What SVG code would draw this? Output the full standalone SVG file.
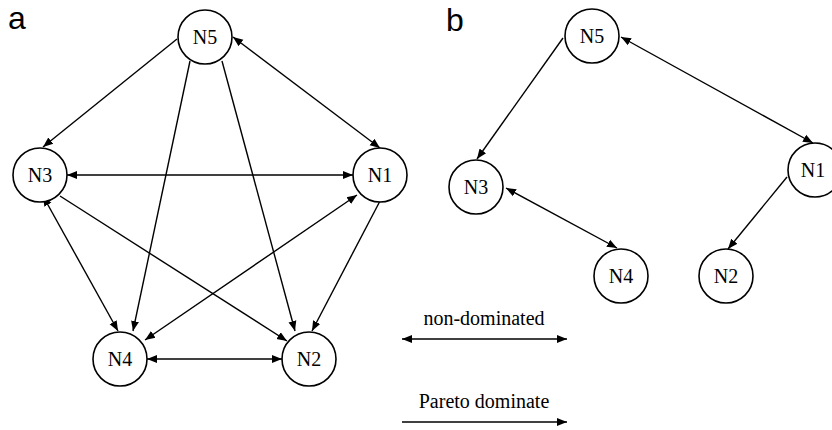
<svg xmlns="http://www.w3.org/2000/svg" width="832" height="430" viewBox="0 0 832 430">
<style>
.node circle{fill:#fff;stroke:#000;stroke-width:1.6}
.node text{font-family:"Liberation Serif",serif;font-size:20px;text-anchor:middle;fill:#000}
.e{stroke:#000;stroke-width:1.4;fill:none;marker-end:url(#ah)}
.b{marker-start:url(#ah)}
.lbl{font-family:"Liberation Sans",Arial,sans-serif;font-size:32px;fill:#000}
.leg{font-family:"Liberation Serif",serif;font-size:20px;text-anchor:middle;fill:#000}
</style>
<defs>
<marker id="ah" markerUnits="userSpaceOnUse" markerWidth="12" markerHeight="10" refX="10" refY="4" orient="auto-start-reverse" viewBox="0 0 12 8">
<path d="M0,0 L10,4 L0,8 Z" fill="#000"/>
</marker>
</defs>
<text class="lbl" x="8" y="29">a</text>
<text class="lbl" x="446" y="31">b</text>
<g id="connectors">
<!-- panel a -->
<line class="e" x1="177" y1="39" x2="43" y2="147"/>
<line class="e b" x1="233" y1="37" x2="380" y2="148"/>
<line class="e b" x1="67" y1="175" x2="353" y2="175"/>
<line class="e" x1="190" y1="61" x2="133" y2="331"/>
<line class="e" x1="222" y1="61" x2="295" y2="331"/>
<line class="e" x1="60" y1="196" x2="287" y2="341"/>
<line class="e b" x1="43" y1="196" x2="118" y2="331"/>
<line class="e b" x1="357" y1="195" x2="145" y2="340"/>
<line class="e" x1="380" y1="201" x2="312" y2="331"/>
<line class="e b" x1="147" y1="359" x2="282" y2="359"/>
<!-- panel b -->
<line class="e" x1="563" y1="38" x2="477" y2="159"/>
<line class="e b" x1="621" y1="37" x2="813" y2="143"/>
<line class="e b" x1="506" y1="188" x2="617" y2="248"/>
<line class="e" x1="787" y1="177" x2="728" y2="249"/>
<!-- legend -->
<line class="e b" x1="402" y1="339" x2="567" y2="339"/>
<line class="e" x1="402" y1="422" x2="567" y2="422"/>
</g>
<g id="a-N5" class="node"><circle cx="205" cy="37" r="27"/><text x="205" y="44">N5</text></g>
<g id="a-N3" class="node"><circle cx="40" cy="175" r="27"/><text x="40" y="182">N3</text></g>
<g id="a-N1" class="node"><circle cx="380" cy="175" r="27"/><text x="380" y="182">N1</text></g>
<g id="a-N4" class="node"><circle cx="120" cy="359" r="27"/><text x="120" y="366">N4</text></g>
<g id="a-N2" class="node"><circle cx="309" cy="359" r="27"/><text x="309" y="366">N2</text></g>
<g id="b-N5" class="node"><circle cx="592" cy="36" r="27"/><text x="592" y="43">N5</text></g>
<g id="b-N1" class="node"><circle cx="815" cy="170" r="27"/><text x="813" y="177">N1</text></g>
<g id="b-N3" class="node"><circle cx="476" cy="187" r="27"/><text x="476" y="194">N3</text></g>
<g id="b-N4" class="node"><circle cx="621" cy="276" r="27"/><text x="621" y="283">N4</text></g>
<g id="b-N2" class="node"><circle cx="726" cy="276" r="27"/><text x="726" y="283">N2</text></g>
<g id="legend">
<text class="leg" x="484" y="325">non-dominated</text>
<text class="leg" x="484" y="408">Pareto dominate</text>
</g>
</svg>
